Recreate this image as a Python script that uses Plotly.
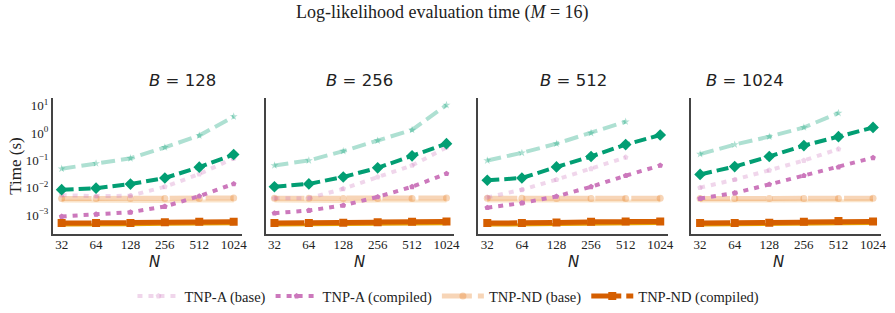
import plotly.graph_objects as go

N = [32, 64, 128, 256, 512, 1024]
B_values = [128, 256, 512, 1024]

# Times (s) per panel, per series
tnpd_base = [
    [0.05, 0.078, 0.12, 0.30, 0.81, 4.0],
    [0.066, 0.10, 0.22, 0.53, 1.3, 10.5],
    [0.10, 0.19, 0.41, 1.0, 2.6, None],
    [0.17, 0.38, 0.74, 1.6, 5.4, None],
]
tnpd_comp = [
    [0.0086, 0.0098, 0.0138, 0.023, 0.057, 0.165],
    [0.011, 0.014, 0.025, 0.054, 0.148, 0.41],
    [0.019, 0.023, 0.058, 0.14, 0.38, 0.85],
    [0.031, 0.06, 0.14, 0.35, 0.74, 1.6],
]
tnpa_base = [
    [0.0055, 0.005, 0.0052, 0.011, 0.032, 0.12],
    [0.0042, 0.0042, 0.0093, 0.025, 0.066, 0.30],
    [0.0045, 0.0086, 0.02, 0.05, 0.13, None],
    [0.0102, 0.02, 0.044, 0.10, 0.26, None],
]
tnpa_comp = [
    [0.00091, 0.0011, 0.0013, 0.0021, 0.005, 0.014],
    [0.0012, 0.0015, 0.0023, 0.0047, 0.011, 0.033],
    [0.0019, 0.0028, 0.0049, 0.011, 0.028, 0.066],
    [0.0041, 0.0065, 0.0134, 0.028, 0.057, 0.126],
]
tnpnd_base = [
    [0.0041, 0.0041, 0.0041, 0.0041, 0.0041, 0.0043],
    [0.0042, 0.0042, 0.0041, 0.0041, 0.0041, 0.0043],
    [0.0042, 0.0042, 0.0041, 0.0041, 0.0041, 0.0042],
    [0.0041, 0.0041, 0.0041, 0.0041, 0.0041, 0.0042],
]
tnpnd_base_alt = [
    [0.0033, 0.0032, 0.0032, 0.0032, 0.0033, 0.0033],
    [0.0033, 0.0032, 0.0032, 0.0033, 0.0033, 0.0033],
    [0.0033, 0.0033, 0.0032, 0.0033, 0.0033, 0.0033],
    [0.0033, 0.0033, 0.0033, 0.0033, 0.0033, 0.0034],
]
tnpnd_comp = [
    [0.00052, 0.00053, 0.00052, 0.00056, 0.00058, 0.00058],
    [0.00052, 0.00053, 0.00054, 0.00056, 0.00058, 0.00060],
    [0.00052, 0.00052, 0.00055, 0.00058, 0.00060, 0.00060],
    [0.00052, 0.00053, 0.00054, 0.00058, 0.00062, 0.00060],
]
tnpnd_comp_alt = [
    [0.00044, 0.00044, 0.00045, 0.00047, 0.00048, 0.00049],
    [0.00044, 0.00044, 0.00046, 0.00047, 0.00048, 0.00049],
    [0.00044, 0.00045, 0.00047, 0.00048, 0.00049, 0.00050],
    [0.00044, 0.00045, 0.00046, 0.00048, 0.00050, 0.00050],
]

x_ticks = ["32", "64", "128", "256", "512", "1024"]
y_tickvals = [1e-3, 1e-2, 1e-1, 1, 10]
y_ticktext = ["10<sup>−3</sup>", "10<sup>−2</sup>", "10<sup>−1</sup>", "10<sup>0</sup>", "10<sup>1</sup>"]

W, H = 895, 313
x_px = [(53, 243), (267, 457), (481, 672), (695, 886)]
y_top, y_bot = 97, 234

SERIF = "Liberation Serif, DejaVu Serif, serif"
SANS = "DejaVu Sans, sans-serif"

series = [
    # name, data, color, width, dash, symbol, msize, legend
    ("TNP-D (base)", tnpd_base, "rgba(2,158,115,0.32)", 4, "14px,6px", "star", 6, False),
    ("TNP-ND (base) alt", tnpnd_base_alt, "rgba(240,165,80,0.3)", 3, "solid", "circle", 0, False),
    ("TNP-ND (base)", tnpnd_base, "rgba(232,135,50,0.35)", 5, "30px,6px", "circle", 7, True),
    ("TNP-A (base)", tnpa_base, "rgba(204,120,188,0.3)", 4, "5px,6px", "pentagon", 6, True),
    ("TNP-D (compiled)", tnpd_comp, "#029e73", 4, "12px,5px", "diamond", 9, False),
    ("TNP-A (compiled)", tnpa_comp, "#cc78bc", 4, "5px,6px", "pentagon", 6, True),
    ("TNP-ND (compiled) alt", tnpnd_comp_alt, "#e69f00", 3, "solid", "square", 0, False),
    ("TNP-ND (compiled)", tnpnd_comp, "#d55e00", 5, "30px,5px", "square", 8, True),
]

legend_order = {"TNP-A (base)": 1, "TNP-A (compiled)": 2, "TNP-ND (base)": 3, "TNP-ND (compiled)": 4}

fig = go.Figure()
layout = {}
for i, B in enumerate(B_values):
    ax = "" if i == 0 else str(i + 1)
    for name, data, color, width, dash, sym, msz, leg in series:
        fig.add_trace(go.Scatter(
            x=N, y=data[i], name=name,
            mode="lines+markers" if msz > 0 else "lines",
            line=dict(color=color, width=width, dash=dash),
            marker=dict(symbol=sym, size=msz, color=color, line=dict(width=0)),
            xaxis="x" + ax, yaxis="y" + ax,
            showlegend=(leg and i == 0),
            legendrank=legend_order.get(name, 1000),
            connectgaps=False,
        ))
    x0, x1 = x_px[i]
    layout["xaxis" + ax] = dict(
        type="log", domain=[x0 / W, x1 / W], anchor="y" + ax,
        range=[1.427, 3.08], tickvals=N, ticktext=x_ticks,
        showgrid=False, zeroline=False, showline=True, linecolor="#444", linewidth=1.5,
        ticks="", ticklabelstandoff=-3,
        tickfont=dict(family=SERIF, size=13, color="#222"),
    )
    layout["yaxis" + ax] = dict(
        type="log", domain=[1 - y_bot / H, 1 - y_top / H], anchor="x" + ax,
        range=[-3.69, 1.29], tickvals=y_tickvals, ticktext=y_ticktext,
        showticklabels=(i == 0),
        showgrid=False, zeroline=False, showline=True, linecolor="#444", linewidth=1.5,
        ticks="", tickfont=dict(family=SERIF, size=13, color="#222"),
    )
    if i == 0:
        layout["yaxis"]["title"] = dict(text="Time (s)", font=dict(family=SERIF, size=17, color="#222"), standoff=0)
    fig.add_annotation(
        text=f"<i>B</i> = {B}", x=(x0 + x1) / 2 / W, y=1 - 80 / H,
        xref="paper", yref="paper", showarrow=False,
        font=dict(family=SANS, size=16.5, color="#222"), yanchor="middle",
    )
    fig.add_annotation(
        text="<i>N</i>", x=(x0 + x1) / 2 / W, y=1 - 262 / H,
        xref="paper", yref="paper", showarrow=False,
        font=dict(family=SANS, size=15, color="#222"), yanchor="middle",
    )

fig.add_annotation(
    text="Log-likelihood evaluation time (<i>M</i> = 16)", x=445 / W, y=1 - 12 / H,
    xref="paper", yref="paper", showarrow=False,
    font=dict(family=SERIF, size=18, color="#222"), yanchor="middle",
)

fig.update_layout(
    width=W, height=H,
    margin=dict(l=0, r=0, t=0, b=0),
    plot_bgcolor="white", paper_bgcolor="white",
    legend=dict(orientation="h", x=451 / W, xanchor="center", y=1 - 296 / H, yanchor="middle",
                font=dict(family=SERIF, size=14.5, color="#222"), itemwidth=42, traceorder="normal"),
    **layout,
)

fig.write_html("out.html", config={"displayModeBar": False},
               post_script="document.body.style.margin='0';document.body.style.padding='0';")
